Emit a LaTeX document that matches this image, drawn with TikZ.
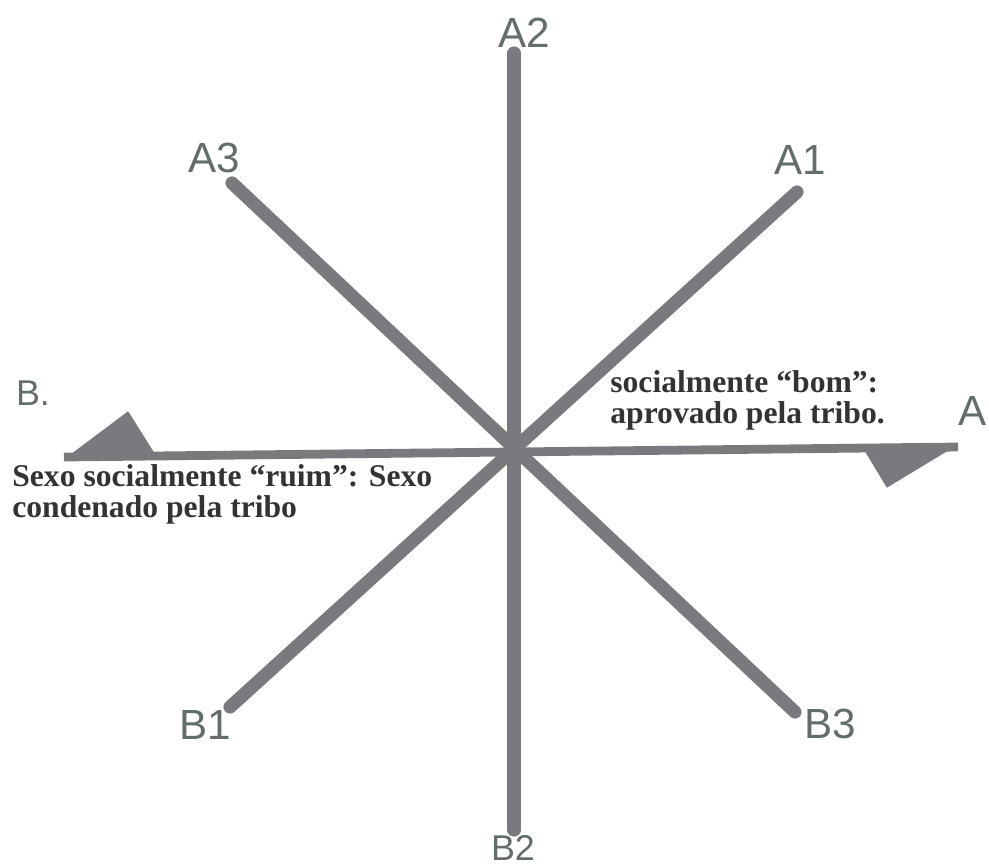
\documentclass[tikz,border=0pt]{standalone}
\usepackage{fontspec}
\setmainfont{Liberation Serif}
\newfontfamily\handfont{Liberation Sans}
\usetikzlibrary{positioning}
\definecolor{axisgray}{RGB}{122,122,126}
\definecolor{inkgray}{RGB}{100,108,108}

\begin{document}
\begin{tikzpicture}[x=0.02cm,y=-0.02cm,
  spoke/.style={line width=7.5pt, draw=axisgray, line cap=round},
  axis/.style={line width=5pt, draw=axisgray},
  halfhead/.style={fill=axisgray, draw=axisgray, line width=0.6pt, line join=round},
  hand/.style={font=\handfont\fontsize{24}{24}\selectfont, text=inkgray, inner sep=0pt},
  caption/.style={font=\bfseries\fontsize{18}{17.5}\selectfont, align=left, inner sep=0pt, text=black!80}]
\useasboundingbox (0,0) rectangle (989,866);
% ends of the spokes
\coordinate (o) at (512,452);
\coordinate (pA2) at (514,53);
\coordinate (pB2) at (514,830);
\coordinate (pA3) at (232,183);
\coordinate (pB3) at (795,712);
\coordinate (pA1) at (797,192);
\coordinate (pB1) at (230,707);
\coordinate (pB) at (64,457);
\coordinate (pA) at (958,447);
% the four axes
\draw[spoke] (pA2) -- (pB2);
\draw[spoke] (pA3) -- (pB3);
\draw[spoke] (pA1) -- (pB1);
\draw[axis] (pB) -- (pA);
% half arrow heads
\filldraw[halfhead] (pB) ++(0,3) -- (128,412) -- (155,455) -- cycle;
\filldraw[halfhead] (pA) ++(0,-3) -- (887,487) -- (866,452) -- cycle;
% handwritten labels
\node[hand] (a2) at (524,33) {A2};
\node[hand] (a3) at (214,158) {A3};
\node[hand] (a1) at (800,160) {A1};
\node[hand, scale=0.85] (b) at (33,393) {B.};
\node[hand] (a) at (973,411) {A};
\node[hand] (b1) at (205,725) {B1};
\node[hand] (b3) at (830,724) {B3};
\node[hand, scale=0.85] (b2) at (513,848) {B2};
% captions
\node[caption, anchor=north west] (bad) at (12,464)
  {Sexo socialmente “ruim”: Sexo\\condenado pela tribo};
\node[caption, anchor=north west] (good) at (610,370)
  {socialmente “bom”:\\aprovado pela tribo.};
\end{tikzpicture}
\end{document}
